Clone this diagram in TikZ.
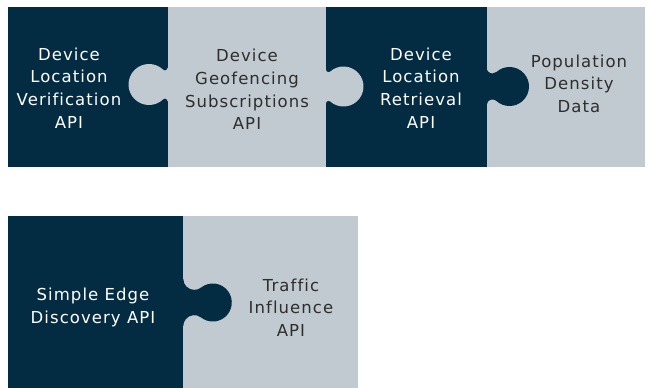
\documentclass[tikz,border=0pt]{standalone}
\usepackage{fontspec}
\setmainfont{DejaVu Sans}[LetterSpace=6.5, Ligatures=NoCommon]
\usepackage{tikz}
\usetikzlibrary{positioning, calc}
\definecolor{piecedark}{HTML}{032C42}
\definecolor{piecelight}{HTML}{C0CAD0}
\definecolor{labelgrey}{HTML}{2E2E2E}

\tikzset{
  onlabel/.style={text=white, align=center, inner sep=0pt,
    font=\fontsize{16.5}{22.6}\selectfont},
  offlabel/.style={onlabel, text=labelgrey},
}

% edge x, centre y, side, offset, radius, fillet, colour
\newcommand{\puzzletab}[7]{%
  \pgfmathsetmacro{\tabfy}{sqrt((#5+#6)^2-(#4-#6)^2)}
  \pgfmathsetmacro{\tabfa}{atan2(\tabfy,#4-#6)}
  \fill[#7, shift={(#1,#2)}, xscale=#3]
    (0,\tabfy) arc[start angle=180, end angle=360-\tabfa, radius=#6]
    arc[start angle=180-\tabfa, end angle=\tabfa-180, radius=#5]
    arc[start angle=\tabfa, end angle=180, radius=#6]
    -- (-1,-\tabfy) -- (-1,\tabfy) -- cycle;
}

\begin{document}
\begin{tikzpicture}[x=1pt, y=1pt]
  \useasboundingbox (0,0) rectangle (651,388);
  \fill[white] (0,0) rectangle (651,388);

  % top row of pieces
  \fill[piecedark]  (8.3,221) rectangle (167.5,380.5);
  \fill[piecelight] (167.5,221) rectangle (326,380.5);
  \fill[piecedark]  (326,221) rectangle (486.5,380.5);
  \fill[piecelight] (486.5,221) rectangle (645,380.5);
  \puzzletab{167.5}{303.5}{-1}{18.5}{20.5}{2.5}{piecelight}
  \puzzletab{326}{301.5}{1}{17.5}{20}{2.5}{piecelight}
  \puzzletab{486.5}{301.5}{1}{23}{19.5}{6}{piecedark}

  % bottom row of pieces
  \fill[piecedark]  (8.3,0) rectangle (183.3,172);
  \fill[piecelight] (183.3,0) rectangle (358.3,172);
  \puzzletab{183.3}{85.5}{1}{29.5}{19}{11}{piecedark}

  \node[onlabel]  (verify)   at (69,300)   {Device\\Location\\Verification\\API};
  \node[offlabel] (geofence) at (247,298.5) {Device\\Geofencing\\Subscriptions\\API};
  \node[onlabel]  (retrieve) at (421,300)   {Device\\Location\\Retrieval\\API};
  \node[offlabel] (density)  at (579,304.5) {Population\\Density\\Data};
  \node[onlabel]  (edge)     at (93,80.5)   {Simple Edge\\Discovery API};
  \node[offlabel] (traffic)  at (291,80.5)  {Traffic\\Influence\\API};
\end{tikzpicture}
\end{document}
